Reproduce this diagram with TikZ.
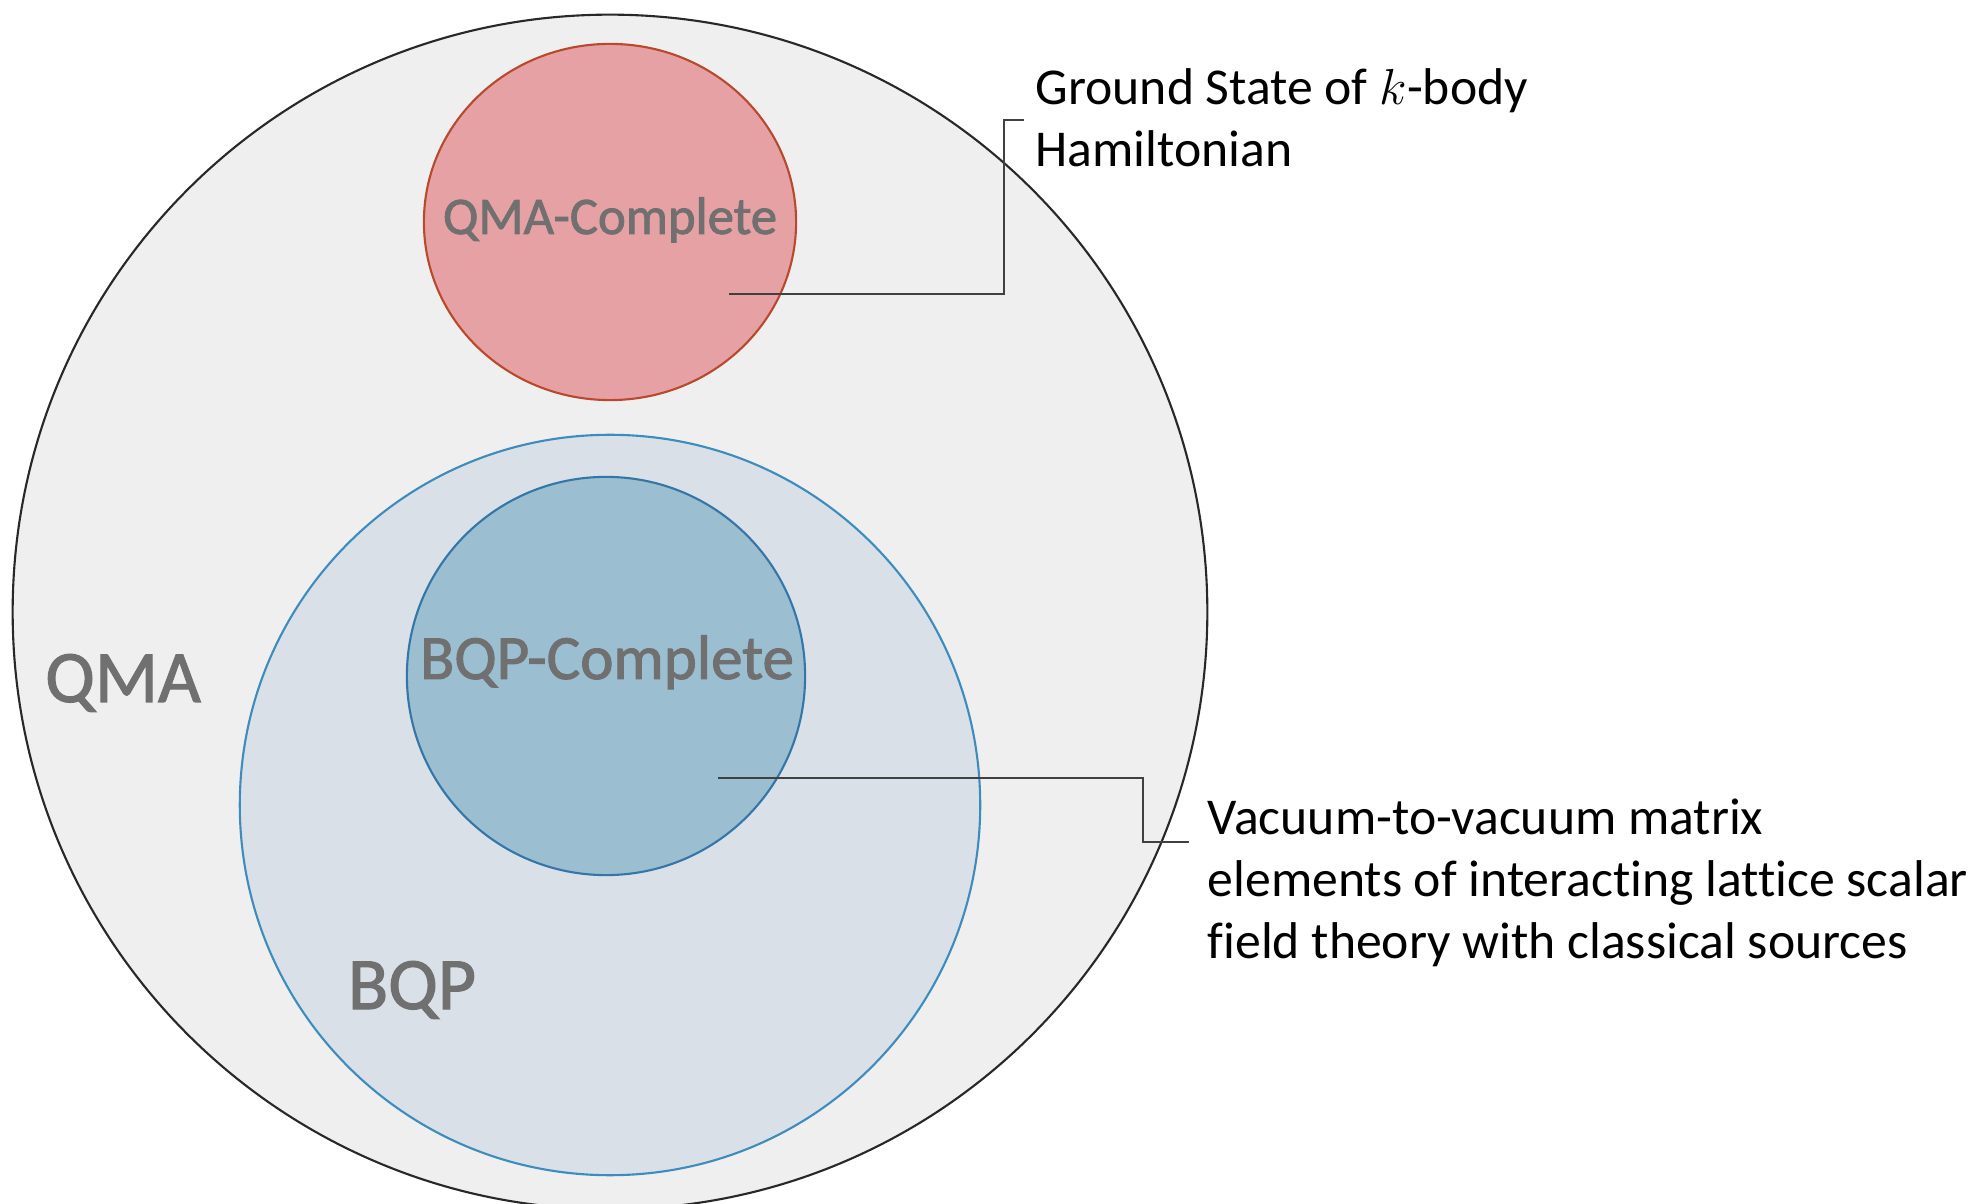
\documentclass[tikz,border=0pt]{standalone}
\usepackage{fontspec}
\setmainfont{Carlito}[Ligatures=NoCommon]
\newfontfamily\tagfont{Carlito}[FakeBold=1.6, Ligatures=NoCommon]
\usepackage{tikz}
\usetikzlibrary{calc,positioning}
\definecolor{QMAfill}{RGB}{239,239,239}
\definecolor{QMAline}{RGB}{40,40,40}
\definecolor{QCfill}{RGB}{229,161,164}
\definecolor{QCline}{RGB}{185,72,45}
\definecolor{BQPfill}{RGB}{218,224,231}
\definecolor{BQPline}{RGB}{62,140,190}
\definecolor{BCfill}{RGB}{155,190,208}
\definecolor{BCline}{RGB}{52,118,168}
\definecolor{TagGray}{RGB}{112,112,112}

\begin{document}
\begin{tikzpicture}[
    x=0.01cm, y=-0.01cm,
    region/.style={line width=0.6pt},
    tag/.style={text=TagGray, inner sep=0pt, anchor=base},
    note/.style={align=left, inner sep=0pt, anchor=north west, font=\fontsize{14.7}{17.6}\selectfont},
    leader/.style={draw=black!75, line width=0.55pt}
]
    \useasboundingbox (0,0) rectangle (1988,1204);
    % complexity classes
    \draw[region, fill=QMAfill, draw=QMAline] (610,612) circle [radius=5.97cm];
    \draw[region, fill=QCfill, draw=QCline] (610,222) ellipse [x radius=1.86cm, y radius=1.78cm];
    \draw[region, fill=BQPfill, draw=BQPline] (610,805) circle [radius=3.7cm];
    \draw[region, fill=BCfill, draw=BCline] (606,676) circle [radius=1.99cm];

    \node[tag, font=\tagfont\fontsize{21}{25}\selectfont] (qma) at (123,702) {QMA};
    \node[tag, font=\tagfont\fontsize{15}{18}\selectfont] (qmac) at (610,234) {QMA-Complete};
    \node[tag, font=\tagfont\fontsize{17.9}{21}\selectfont] (bqpc) at (607,679) {BQP-Complete};
    \node[tag, font=\tagfont\fontsize{21}{25}\selectfont] (bqp) at (412,1009) {BQP};

    % problems
    \node[note] (gs) at (1035,68) {Ground State of $k$-body\\Hamiltonian};
    \node[note] (vac) at (1207,798) {Vacuum-to-vacuum matrix\\elements of interacting lattice scalar\\field theory with classical sources};

    \coordinate (qcpin) at (729,294);
    \coordinate (gsend) at (1024,120);
    \coordinate (bcpin) at (718,778);
    \coordinate (vacend) at (1189,842);

    \draw[leader] (qcpin) -| ($(gsend)+(-20,0)$) -- (gsend);
    \draw[leader] (bcpin) -| ($(vacend)+(-46,0)$) -- (vacend);
\end{tikzpicture}
\end{document}
